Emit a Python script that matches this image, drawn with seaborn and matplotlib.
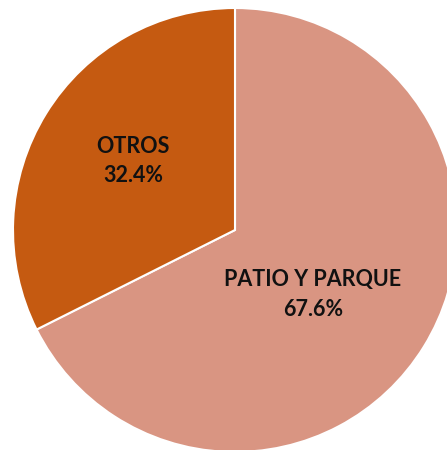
import matplotlib
matplotlib.use("Agg")
import matplotlib.pyplot as plt
import seaborn as sns

categories = ["PATIO Y PARQUE", "OTROS"]
shares = [67.6, 32.4]
colors = ["#D99582", "#C55A11"]

sns.set_theme(style="white")
plt.rcParams["font.family"] = ["Lato", "DejaVu Sans"]

W, H = 447, 450
fig = plt.figure(figsize=(W / 100, H / 100), dpi=100)
ax = fig.add_axes([0, 0, 1, 1])

wedges, _ = ax.pie(shares, colors=colors, startangle=90, counterclock=False,
                   radius=1.0, wedgeprops=dict(edgecolor="white", linewidth=1.5))

# label anchors, in units of the pie radius
label_xy = [(0.35, -0.29), (-0.46, 0.31)]
for (x, y), name, val in zip(label_xy, categories, shares):
    ax.text(x, y, f"{name}\n{val:.1f}%",
            ha="center", va="center", fontsize=15.5, fontweight="bold",
            color="#111111", linespacing=1.5)

cx, cy, r = 235, 230, 222  # pie centre and radius in pixels
ax.set_xlim(-cx / r, (W - cx) / r)
ax.set_ylim(-(H - cy) / r, cy / r)
ax.set_aspect("equal")
ax.set_axis_off()

fig.savefig("out.png", dpi=100)
